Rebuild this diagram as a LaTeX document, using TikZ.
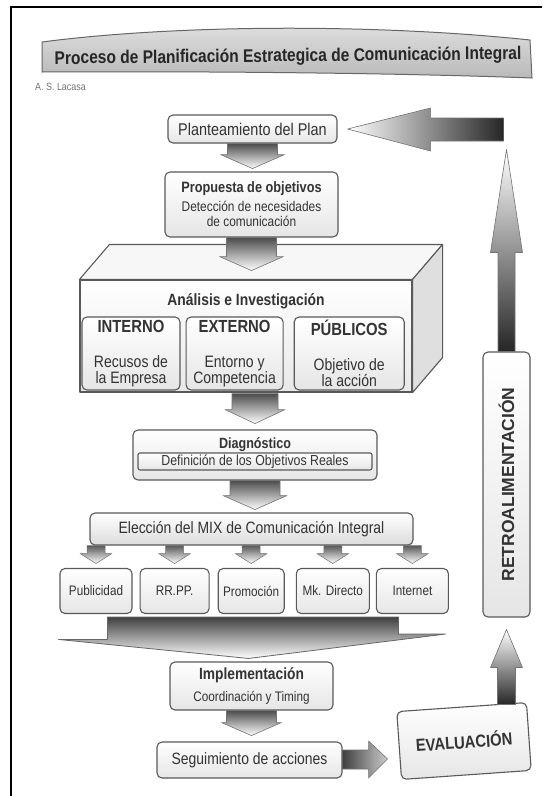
\documentclass[tikz,border=0pt]{standalone}
\usepackage{fontspec}
\setmainfont{Liberation Sans}[FakeStretch=0.85]
\newfontfamily\retrofont{Liberation Sans}
\usetikzlibrary{positioning, calc}

\begin{document}
\begin{tikzpicture}[
    x=1pt, y=-1pt,
    box/.style={draw=black!65, line width=1.1pt, rounded corners=5pt, top color=white, bottom color=gray!20, align=center, text=black!80, inner sep=1pt},
    item/.style={box, minimum height=45, font=\fontsize{13.8}{16}\selectfont},
    inbox/.style={box, minimum height=73, font=\fontsize{16.5}{16}\selectfont},
    face/.style={draw=black!65, line width=1.1pt, line join=round},
    banner/.style={draw=black!60, line width=1pt, top color=gray!25, bottom color=gray!55},
    darr/.style={draw=black!55, line width=0.6pt, line join=round, top color=black!70, bottom color=white},
    sarr/.style={draw=black!55, line width=0.5pt, line join=round, top color=black!65, bottom color=white},
    bigarr/.style={draw=black!60, line width=0.8pt, line join=round, top color=black!75, bottom color=white},
    rarr/.style={draw=black!55, line width=0.6pt, line join=round, left color=black!75, right color=gray!40},
    uarr/.style={draw=black!55, line width=0.6pt, line join=round, top color=white, bottom color=black!85},
    larr/.style={draw=black!55, line width=0.6pt, line join=round, left color=white, right color=black!85}
]
\useasboundingbox (0,0) rectangle (542,796);

% Frame
\draw[line width=2pt] (11,796) -- (11,7) -- (542,7);

% Title
\draw[banner] (42,42) .. controls (180,24) and (380,24) .. (530,40) -- (532,78) .. controls (400,73) and (200,71) .. (42,72) -- cycle;
\node[font=\bfseries\fontsize{18.3}{20}\selectfont, text=black!85, rotate=0.6] (title) at (288,57) {Proceso de Planificación Estrategica de Comunicación Integral};
\node[font=\fontsize{10.5}{12}\selectfont, text=black!55, anchor=west, inner sep=0] (author) at (35,86.5) {A. S. Lacasa};

% Plan and objectives
\node[box, minimum width=169, minimum height=28, font=\fontsize{17}{20}\selectfont] (plan) at (252.5,129) {Planteamiento del Plan};
\node[box, minimum width=173, minimum height=65, font=\fontsize{14}{15}\selectfont] (prop) at (251.5,204.5) {{\bfseries\fontsize{15}{15}\selectfont Propuesta de objetivos}\\[4pt]Detección de necesidades\\de comunicación};

% Analysis block
\node[face, top color=white, bottom color=gray!18, minimum width=332, minimum height=112] (ana) at (246,336) {};
\draw[face, fill=gray!6] (ana.north west) -- ++(30,-35) -- ($(ana.north east)+(30,-35)$) -- (ana.north east) -- cycle;
\draw[face, fill=gray!25] (ana.north east) -- ++(30,-35) -- ($(ana.south east)+(30,-35)$) -- (ana.south east) -- cycle;
\node[font=\bfseries\fontsize{16.3}{18}\selectfont, text=black!80] (anatitle) at ($(ana.north)+(0,22)$) {Análisis e Investigación};
\node[inbox, minimum width=98] (int) at (131,353.5) {{\bfseries\fontsize{17.5}{16}\selectfont INTERNO}\\[19pt]Recusos de\\la Empresa};
\node[inbox, minimum width=97, right=5pt of int] (ext) {{\bfseries\fontsize{17.5}{16}\selectfont EXTERNO}\\[19pt]Entorno y\\Competencia};
\node[inbox, minimum width=110, right=10pt of ext] (pubs) {{\bfseries\fontsize{17.5}{16}\selectfont PÚBLICOS}\\[19pt]Objetivo de\\la acción};

% Diagnosis
\node[box, minimum width=244, minimum height=50] (diag) at (255,455) {};
\node[font=\bfseries\fontsize{14.8}{16}\selectfont, text=black!80] (diagtitle) at ($(diag.north)+(0,15)$) {Diagnóstico};
\node[box, rounded corners=2pt, minimum width=234, minimum height=17, inner sep=0pt, font=\fontsize{14.5}{16}\selectfont] (diagsub) at ($(diag.north)+(0,32)$) {Definición de los Objetivos Reales};

% Communication mix
\node[box, minimum width=323, minimum height=32, bottom color=gray!28, font=\fontsize{16.4}{18}\selectfont] (mix) at (251.5,529) {Elección del MIX de Comunicación Integral};
\node[item, minimum width=72] (pub) at (96,591) {Publicidad};
\node[item, minimum width=69, right=7pt of pub] (rrpp) {RR.PP.};
\node[item, minimum width=66, right=8pt of rrpp] (promo) {Promoción};
\node[item, minimum width=73, right=11pt of promo] (mkd) {Mk. Directo};
\node[item, minimum width=72, right=6pt of mkd] (inet) {Internet};

% Implementation and evaluation
\node[box, minimum width=163, minimum height=48, font=\fontsize{13.8}{22}\selectfont] (impl) at (251.5,686) {{\bfseries\fontsize{16.2}{22}\selectfont Implementación}\\Coordinación y Timing};
\node[box, minimum width=185, minimum height=36, font=\fontsize{16.4}{20}\selectfont] (seg) at (249.5,760) {Seguimiento de acciones};
\node[box, rotate=4, minimum width=130, minimum height=68, font=\bfseries\fontsize{17.4}{20}\selectfont] (eval) at (464,741) {EVALUACIÓN};
\node[box, rotate=90, minimum width=265, minimum height=47, font=\retrofont\bfseries\fontsize{17.5}{20}\selectfont] (retro) at (506.5,484.5) {RETROALIMENTACIÓN};

% Block arrows, main column
\draw[darr] ($(plan.south)+(-25,0)$) -- ++(50,0) -- ++(0,11) -- ++(7,0) -- ++(-32,14) -- ++(-32,-14) -- ++(7,0) -- cycle;
\draw[darr] ($(prop.south)+(-25,0)$) -- ++(50,0) -- ++(0,19) -- ++(7,0) -- ++(-32,14) -- ++(-32,-14) -- ++(7,0) -- cycle;
\draw[darr] ($(diag.north |- ana.south)+(-23,1)$) -- ++(46,0) -- ++(0,16) -- ++(7,0) -- ++(-30,14) -- ++(-30,-14) -- ++(7,0) -- cycle;
\draw[darr] ($(diag.south)+(-25,0)$) -- ++(50,0) -- ++(0,15) -- ++(7,0) -- ++(-32,14) -- ++(-32,-14) -- ++(7,0) -- cycle;

% Mix arrows
\draw[sarr] ($(pub.north |- mix.south)+(-9,0)$) -- ++(18,0) -- ++(0,8) -- ++(7,0) -- ++(-16,10) -- ++(-16,-10) -- ++(7,0) -- cycle;
\draw[sarr] ($(rrpp.north |- mix.south)+(-9,0)$) -- ++(18,0) -- ++(0,8) -- ++(7,0) -- ++(-16,10) -- ++(-16,-10) -- ++(7,0) -- cycle;
\draw[sarr] ($(promo.north |- mix.south)+(-9,0)$) -- ++(18,0) -- ++(0,8) -- ++(7,0) -- ++(-16,10) -- ++(-16,-10) -- ++(7,0) -- cycle;
\draw[sarr] ($(mkd.north |- mix.south)+(-9,0)$) -- ++(18,0) -- ++(0,8) -- ++(7,0) -- ++(-16,10) -- ++(-16,-10) -- ++(7,0) -- cycle;
\draw[sarr] ($(inet.north |- mix.south)+(-9,0)$) -- ++(18,0) -- ++(0,8) -- ++(7,0) -- ++(-16,10) -- ++(-16,-10) -- ++(7,0) -- cycle;
\draw[bigarr] ($(pub.south east)+(-25,3)$) -- ++(291,0) -- ++(0,17) -- ++(47,0) -- ($(impl.north)+(-3,-3)$) -- ++(-190,-19) -- ++(49,0) -- cycle;

% Lower arrows and feedback loop
\draw[darr] ($(impl.south)+(-25,0)$) -- ++(50,0) -- ++(0,12) -- ++(5,0) -- ++(-30,13) -- ++(-30,-13) -- ++(5,0) -- cycle;
\draw[rarr] ($(seg.east)+(0,-10)$) -- ++(26,0) -- ++(0,-9) -- ++(19,18) -- ++(-19,19) -- ++(0,-9) -- ++(-26,0) -- cycle;
\draw[uarr] ($(retro.west |- eval.north)+(-9,-2)$) -- ++(0,-37) -- ++(-7,0) -- ++(16,-38) -- ++(16,38) -- ++(-7,0) -- ++(0,37) -- cycle;
\draw[uarr] ($(retro.east)+(-8.5,0)$) -- ++(0,-99) -- ++(-7.5,0) -- ++(16,-103) -- ++(16,103) -- ++(-7.5,0) -- ++(0,99) -- cycle;
\draw[larr] ($(plan.east)+(10,0)$) -- ++(83,-21) -- ++(0,10) -- ++(73,0) -- ++(0,23) -- ++(-73,0) -- ++(0,10) -- cycle;

\end{tikzpicture}
\end{document}
